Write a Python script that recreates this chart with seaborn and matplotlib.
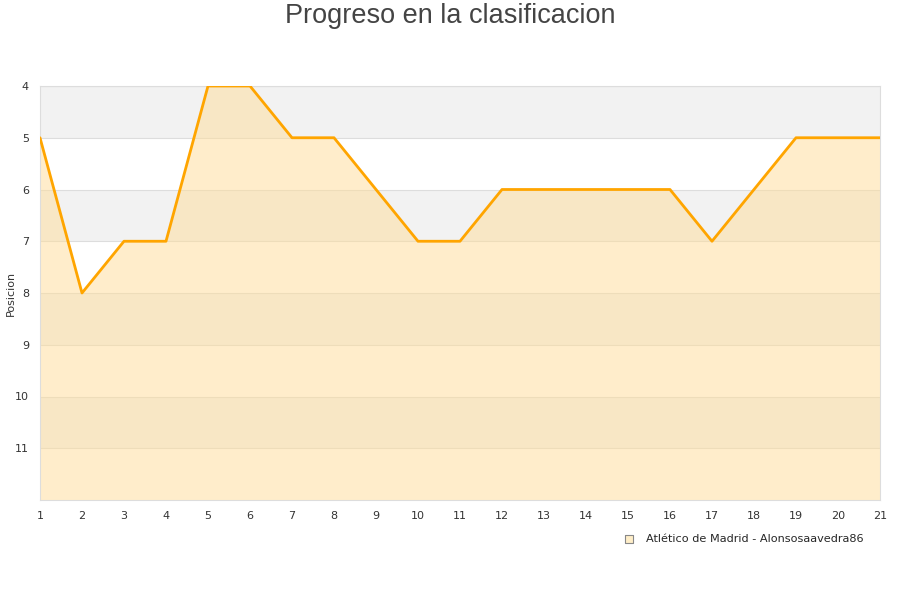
import matplotlib
matplotlib.use('Agg')
import matplotlib.pyplot as plt
import seaborn as sns
import pandas as pd

jornadas = list(range(1, 22))
posicion = [5, 8, 7, 7, 4, 4, 5, 5, 6, 7, 7, 6, 6, 6, 6, 6, 7, 6, 5, 5, 5]
equipo = 'Atlético de Madrid - Alonsosaavedra86'
titulo = 'Progreso en la clasificacion'

df = pd.DataFrame({'jornada': jornadas, 'posicion': posicion})

sns.set_style('white')
plt.rcParams['font.family'] = ['DejaVu Sans']

fig = plt.figure(figsize=(9, 6), dpi=100)
ax = fig.add_axes([40 / 900, 100 / 600, 840 / 900, 414 / 600])

y_top, y_bot = 4, 12
# alternating background bands
for k in range(y_top, y_bot):
    if (k - y_top) % 2 == 0:
        ax.axhspan(k, k + 1, color='#f2f2f2', zorder=0, lw=0)
    ax.axhline(k, color='#dddddd', lw=0.8, zorder=1)

ax.fill_between(df['jornada'], df['posicion'], y_bot, color='#ffdd99', alpha=0.5,
                lw=0, zorder=2)
sns.lineplot(data=df, x='jornada', y='posicion', color='#ffa500', lw=2.0, ax=ax, zorder=3)

ax.set_xlim(1, 21)
ax.set_ylim(y_bot, y_top)
ax.set_xticks(jornadas)
ax.set_yticks(range(4, 12))
ax.tick_params(axis='both', labelsize=8, labelcolor='#333333', length=0, pad=8)
ax.set_xlabel('')
ax.set_ylabel('')
for side in ['top', 'right', 'bottom', 'left']:
    ax.spines[side].set_color('#dddddd')
    ax.spines[side].set_linewidth(0.8)

fig.text(11 / 900, 1 - 293 / 600, 'Posicion', rotation=90, ha='center', va='center',
         fontsize=8, color='#333333')
fig.text(0.5, 1 - 16 / 600, titulo, ha='center', va='center', fontsize=19.5,
         color='#444444', family='Liberation Sans')

ax.scatter([], [], marker='s', s=40, color='#ffeec8', edgecolor='#888888', lw=0.8,
           label=equipo)
ax.legend(loc='upper right', bbox_to_anchor=(868 / 900, 1 - 529 / 600),
          bbox_transform=fig.transFigure, frameon=False, fontsize=8.1,
          handletextpad=0.5, borderaxespad=0)

fig.savefig('out.png', dpi=100)
